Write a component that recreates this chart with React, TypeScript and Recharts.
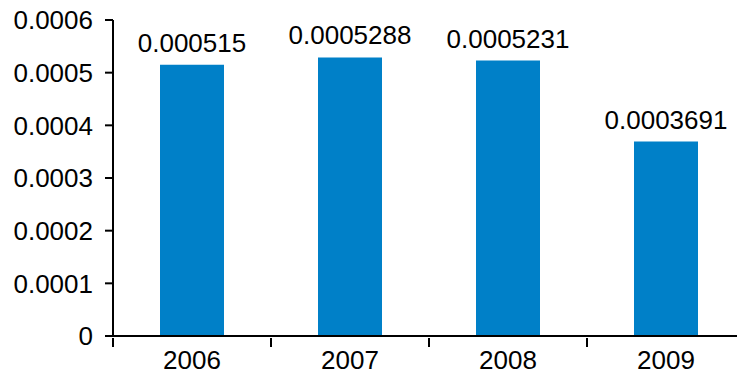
import { BarChart, Bar, XAxis, YAxis, LabelList } from 'recharts';

const years = ['2006', '2007', '2008', '2009'];
const values = [0.000515, 0.0005288, 0.0005231, 0.0003691];
const yTicks = [0, 0.0001, 0.0002, 0.0003, 0.0004, 0.0005, 0.0006];

const data = years.map((year, i) => ({ year, value: values[i] }));

const FONT = '"Liberation Sans", Arial, sans-serif';

const YearTick = (props: any) => {
  const { x, y, payload, index } = props;
  const half = payload.offset || 0;
  return (
    <g>
      <line x1={x - half} y1={y - 9} x2={x - half} y2={y} stroke="#000" strokeWidth={2} />
      {index === years.length - 1 && (
        <line x1={x + half} y1={y - 9} x2={x + half} y2={y} stroke="#000" strokeWidth={2} />
      )}
      <text x={x} y={y + 3} dy="0.72em" textAnchor="middle" fontSize={26} fontFamily={FONT} fill="#000">
        {payload.value}
      </text>
    </g>
  );
};

const App = () => {
  return (
    <div style={{ position: 'absolute', left: 0, top: 0, width: 737, height: 376, overflow: 'hidden', background: '#fff' }}>
      <BarChart width={760} height={376} data={data} margin={{ top: 20, right: 15, left: 0, bottom: 0 }}>
        <XAxis
          dataKey="year"
          height={40}
          tickLine={false}
          axisLine={{ stroke: '#000', strokeWidth: 2 }}
          tick={<YearTick />}
          tickSize={9}
          interval={0}
        />
        <YAxis
          width={113}
          domain={[0, 0.0006]}
          ticks={yTicks}
          interval={0}
          tickSize={8}
          tickMargin={12}
          axisLine={{ stroke: '#000', strokeWidth: 2 }}
          tickLine={{ stroke: '#000', strokeWidth: 2 }}
          tick={{ fontSize: 26, fontFamily: FONT, fill: '#000' }}
          tickFormatter={(v: number) => (v === 0 ? '0' : v.toFixed(4))}
        />
        <Bar dataKey="value" fill="#0080C8" barSize={64} isAnimationActive={false}>
          <LabelList
            dataKey="value"
            position="top"
            offset={13}
            fontSize={26}
            fontFamily={FONT}
            fill="#000"
            formatter={(v: any) => String(v)}
          />
        </Bar>
      </BarChart>
    </div>
  );
};

export default App;
